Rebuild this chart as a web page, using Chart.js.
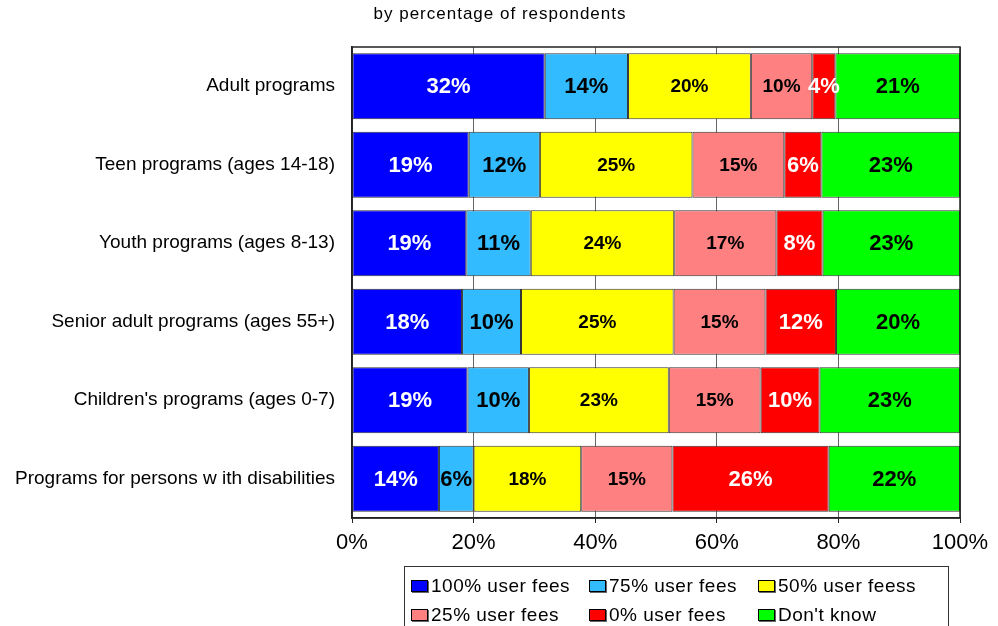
<!DOCTYPE html>
<html>
<head>
<meta charset="utf-8">
<script src="https://cdn.jsdelivr.net/npm/chart.js@4"></script>
<style>
  body { margin: 0; background: #fff; }
  #wrap { position: relative; width: 998px; height: 626px; }
  #legend {
    position: absolute; left: 404px; top: 566px; width: 545px; height: 70px;
    border: 1px solid #333; box-sizing: border-box;
    font: 19px "Liberation Sans", Arial, sans-serif; letter-spacing: 0.5px; color: #000;
  }
  .item { position: absolute; display: flex; align-items: center; height: 24px; white-space: nowrap; }
  .sw { width: 15px; height: 10px; border: 1px solid #000; box-shadow: 1px 1px 0 #666; margin-right: 3px; }
</style>
</head>
<body>
<div id="wrap">
  <canvas id="myChart" width="998" height="626"></canvas>
  <div id="legend"></div>
</div>
<script>
const categories = [
  "Adult programs",
  "Teen programs (ages 14-18)",
  "Youth programs (ages 8-13)",
  "Senior adult programs (ages 55+)",
  "Children's programs (ages 0-7)",
  "Programs for persons w ith disabilities",
];
const seriesNames = ["100% user fees", "75% user fees", "50% user feess", "25% user fees", "0% user fees", "Don't know"];
const fees100 = [31.7, 19.2, 18.8, 18.1, 19.0, 14.3];
const fees75 = [13.7, 11.7, 10.6, 9.7, 10.1, 5.7];
const fees50 = [20.2, 25.1, 23.6, 25.1, 23.0, 17.7];
const fees25 = [10.1, 15.1, 16.8, 15.1, 15.1, 15.0];
const fees0 = [3.8, 6.1, 7.6, 11.6, 9.7, 25.7];
const dontKnow = [20.5, 22.8, 22.6, 20.4, 23.1, 21.6];
const xTicks = [0, 20, 40, 60, 80, 100];
const chartTitle = "by percentage of respondents";

const colors = ["#0000ff", "#33bbff", "#ffff00", "#ff8080", "#ff0000", "#00ff00"];
const labelColors = ["#fff", "#000", "#000", "#000", "#fff", "#000"];
const labelSizes = [22, 22, 19, 19, 22, 22];
const values = [fees100, fees75, fees50, fees25, fees0, dontKnow];

Chart.defaults.font.family = '"Liberation Sans", Arial, sans-serif';
Chart.defaults.color = "#000";

// percent text in the middle of every segment
const segmentLabels = {
  id: "segmentLabels",
  afterDatasetsDraw(chart) {
    const ctx = chart.ctx;
    ctx.save();
    ctx.textAlign = "center";
    ctx.textBaseline = "middle";
    chart.data.datasets.forEach((ds, i) => {
      const meta = chart.getDatasetMeta(i);
      ctx.fillStyle = labelColors[i];
      ctx.font = "bold " + labelSizes[i] + 'px "Liberation Sans", Arial, sans-serif';
      meta.data.forEach((bar, j) => {
        const x = (bar.x + bar.base) / 2;
        ctx.fillText(Math.round(ds.data[j]) + "%", x, bar.y + 1);
      });
    });
    ctx.restore();
  },
};

// frame round the plot area + the small title on top
const plotFrame = {
  id: "plotFrame",
  afterDatasetsDraw(chart) {
    const a = chart.chartArea;
    const ctx = chart.ctx;
    ctx.save();
    ctx.strokeStyle = "#222";
    ctx.lineWidth = 1.5;
    ctx.strokeRect(a.left, a.top, a.right - a.left, a.bottom - a.top);
    ctx.font = '17px "Liberation Sans", Arial, sans-serif';
    ctx.letterSpacing = "1px";
    ctx.fillStyle = "#000";
    ctx.textAlign = "center";
    ctx.textBaseline = "middle";
    ctx.fillText(chartTitle, 500, 14);
    ctx.restore();
  },
};

const data = {
  labels: categories,
  datasets: seriesNames.map((name, i) => ({
    label: name,
    data: values[i],
    backgroundColor: colors[i],
    borderColor: "#333",
    borderWidth: 1,
    borderSkipped: false,
    barPercentage: 0.84,
    categoryPercentage: 1,
  })),
};

const config = {
  type: "bar",
  data: data,
  options: {
    indexAxis: "y",
    responsive: false,
    animation: false,
    layout: { padding: { left: 0, right: 38, top: 47, bottom: 62.6 } },
    plugins: {
      legend: { display: false },
      tooltip: { enabled: false },
      title: { display: false },
    },
    scales: {
      x: {
        stacked: true,
        min: 0,
        max: 100,
        afterBuildTicks(scale) {
          scale.ticks = xTicks.map((v) => ({ value: v }));
        },
        ticks: {
          callback: (v) => v + "%",
          font: { size: 22 },
          padding: 7,
          maxRotation: 0,
        },
        grid: { color: "#666", lineWidth: 1, tickLength: 5, tickColor: "#222" },
        border: { color: "#222", width: 1.5 },
      },
      y: {
        stacked: true,
        afterFit(scale) {
          scale.width = 352;
        },
        ticks: { font: { size: 19 }, padding: 9 },
        grid: { display: false },
        border: { color: "#222", width: 1.5 },
      },
    },
  },
  plugins: [segmentLabels, plotFrame],
};

const canvasArea = document.getElementById("myChart").getContext("2d");
const myChart = new Chart(canvasArea, config);

// legend built from the chart's own datasets, 3 per row
const legendBox = document.getElementById("legend");
const colLeft = [6, 184, 353];
myChart.data.datasets.forEach((ds, i) => {
  const item = document.createElement("div");
  item.className = "item";
  item.style.left = colLeft[i % 3] + "px";
  item.style.top = (i < 3 ? 7 : 36) + "px";
  const sw = document.createElement("span");
  sw.className = "sw";
  sw.style.background = ds.backgroundColor;
  item.appendChild(sw);
  item.appendChild(document.createTextNode(ds.label));
  legendBox.appendChild(item);
});
</script>
</body>
</html>
